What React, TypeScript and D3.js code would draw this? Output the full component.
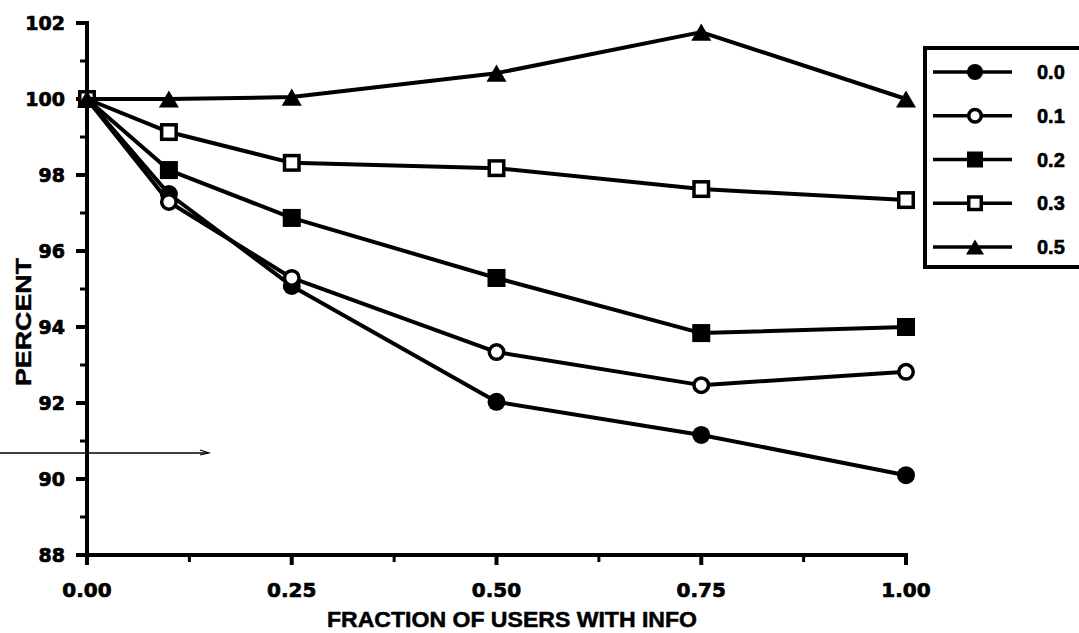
import { useEffect, useRef } from 'react';
import * as d3 from 'd3';

const fractions = [0, 0.1, 0.25, 0.5, 0.75, 1.0];
const seriesNames = ['0.0', '0.1', '0.2', '0.3', '0.5'];
const series00 = [100, 97.5, 95.08, 92.03, 91.16, 90.1];
const series01 = [100, 97.29, 95.29, 93.34, 92.47, 92.82];
const series02 = [100, 98.13, 96.87, 95.29, 93.84, 94.0];
const series03 = [100, 99.13, 98.32, 98.18, 97.63, 97.34];
const series05 = [100, 100.0, 100.05, 100.68, 101.76, 100.0];
const markerTypes = ['circleFilled', 'circleOpen', 'squareFilled', 'squareOpen', 'triangle'];

const xTicks = [0, 0.25, 0.5, 0.75, 1.0];
const xMinorTicks = [0.125, 0.375, 0.625, 0.875];
const yTicks = [88, 90, 92, 94, 96, 98, 100, 102];
const yMinorTicks = [89, 91, 93, 95, 97, 99, 101];

const xTitle = 'FRACTION OF USERS WITH INFO';
const yTitle = 'PERCENT';

const tickFont = '"DejaVu Sans", sans-serif';
const labelFont = '"Liberation Sans", Arial, sans-serif';

function drawMarker(g, type, cx, cy, s) {
  if (type === 'circleFilled') {
    g.append('circle').attr('cx', cx).attr('cy', cy).attr('r', s / 2).attr('fill', '#000');
  } else if (type === 'circleOpen') {
    g.append('circle').attr('cx', cx).attr('cy', cy).attr('r', s / 2 - 1.75)
      .attr('fill', '#fff').attr('stroke', '#000').attr('stroke-width', 3.5);
  } else if (type === 'squareFilled') {
    g.append('rect').attr('x', cx - s / 2).attr('y', cy - s / 2).attr('width', s).attr('height', s).attr('fill', '#000');
  } else if (type === 'squareOpen') {
    g.append('rect').attr('x', cx - s / 2 + 1.75).attr('y', cy - s / 2 + 1.75)
      .attr('width', s - 3.5).attr('height', s - 3.5)
      .attr('fill', '#fff').attr('stroke', '#000').attr('stroke-width', 3.5);
  } else {
    const h = s * 0.95;
    g.append('path')
      .attr('d', `M${cx},${cy - h / 2}L${cx + s / 2 + 1},${cy + h / 2}L${cx - s / 2 - 1},${cy + h / 2}Z`)
      .attr('fill', '#000');
  }
}

export default function App() {
  const svgRef = useRef(null);

  useEffect(() => {
    const svg = d3.select(svgRef.current);
    svg.selectAll('*').remove();

    const width = 1079;
    const height = 633;
    svg.attr('width', width).attr('height', height);
    svg.append('rect').attr('width', width).attr('height', height).attr('fill', '#fff');

    const x = d3.scaleLinear().domain([0, 1]).range([87, 906]);
    const y = d3.scaleLinear().domain([88, 102]).range([555, 23]);

    const allSeries = [series00, series01, series02, series03, series05];

    // axes
    const ax = svg.append('g');
    ax.append('line').attr('x1', x(0)).attr('x2', x(0)).attr('y1', y(102) - 2).attr('y2', y(88) + 9)
      .attr('stroke', '#000').attr('stroke-width', 4);
    ax.append('line').attr('x1', x(0) - 2).attr('x2', x(1) + 2).attr('y1', y(88)).attr('y2', y(88))
      .attr('stroke', '#000').attr('stroke-width', 4);

    yTicks.forEach(t => {
      ax.append('line').attr('x1', x(0) - 11).attr('x2', x(0)).attr('y1', y(t)).attr('y2', y(t))
        .attr('stroke', '#000').attr('stroke-width', 4);
      ax.append('text').attr('x', 65).attr('y', y(t)).attr('dy', '0.36em')
        .attr('text-anchor', 'end').attr('font-family', tickFont).attr('font-weight', 'bold')
        .attr('font-size', 19).attr('stroke', '#000').attr('stroke-width', 0.7).text(t);
    });
    yMinorTicks.forEach(t => {
      ax.append('line').attr('x1', x(0) - 7).attr('x2', x(0)).attr('y1', y(t)).attr('y2', y(t))
        .attr('stroke', '#000').attr('stroke-width', 3);
    });
    xTicks.forEach(t => {
      ax.append('line').attr('x1', x(t)).attr('x2', x(t)).attr('y1', y(88)).attr('y2', y(88) + 10)
        .attr('stroke', '#000').attr('stroke-width', 4);
      ax.append('text').attr('x', x(t)).attr('y', 597)
        .attr('text-anchor', 'middle').attr('font-family', tickFont).attr('font-weight', 'bold')
        .attr('font-size', 20).attr('stroke', '#000').attr('stroke-width', 0.7)
        .text(d3.format('.2f')(t));
    });
    xMinorTicks.forEach(t => {
      ax.append('line').attr('x1', x(t)).attr('x2', x(t)).attr('y1', y(88)).attr('y2', y(88) + 7)
        .attr('stroke', '#000').attr('stroke-width', 3);
    });

    svg.append('text').attr('x', 512).attr('y', 627).attr('text-anchor', 'middle')
      .attr('font-family', labelFont).attr('font-weight', 'bold').attr('font-size', 22)
      .attr('stroke', '#000').attr('stroke-width', 0.5)
      .attr('textLength', 370).attr('lengthAdjust', 'spacingAndGlyphs')
      .text(xTitle);
    svg.append('text').attr('transform', 'translate(31,322) rotate(-90)').attr('text-anchor', 'middle')
      .attr('font-family', labelFont).attr('font-weight', 'bold').attr('font-size', 22)
      .attr('stroke', '#000').attr('stroke-width', 0.4)
      .attr('textLength', 128).attr('lengthAdjust', 'spacingAndGlyphs')
      .text(yTitle);

    // stray scan line
    svg.append('line').attr('x1', 0).attr('x2', 208).attr('y1', 453).attr('y2', 453)
      .attr('stroke', '#000').attr('stroke-width', 1.3);
    svg.append('path').attr('d', 'M200,450L209,453L200,455').attr('fill', 'none')
      .attr('stroke', '#000').attr('stroke-width', 1.2);

    // series
    const line = d3.line().x((d, i) => x(fractions[i])).y(d => y(d));
    const plot = svg.append('g');
    allSeries.forEach((vals, si) => {
      const g = plot.append('g');
      g.append('path').datum(vals).attr('d', line).attr('fill', 'none')
        .attr('stroke', '#000').attr('stroke-width', 4).attr('stroke-linejoin', 'round');
      vals.forEach((v, i) => drawMarker(g, markerTypes[si], x(fractions[i]), y(v), 18));
    });

    // legend
    const lg = svg.append('g');
    lg.append('rect').attr('x', 925).attr('y', 48).attr('width', 170).attr('height', 219)
      .attr('fill', '#fff').attr('stroke', '#000').attr('stroke-width', 4);
    const ly = d3.scalePoint().domain(seriesNames).range([72, 247]);
    seriesNames.forEach((name, si) => {
      const yy = ly(name);
      lg.append('line').attr('x1', 933).attr('x2', 1012).attr('y1', yy).attr('y2', yy)
        .attr('stroke', '#000').attr('stroke-width', 3.5);
      drawMarker(lg, markerTypes[si], 975, yy, 16);
      lg.append('text').attr('x', 1037).attr('y', yy).attr('dy', '0.36em')
        .attr('font-family', labelFont).attr('font-weight', 'bold').attr('font-size', 20)
        .attr('stroke', '#000').attr('stroke-width', 0.6)
        .text(name);
    });
  }, []);

  return (
    <div style={{ position: 'fixed', left: 0, top: 0 }}>
      <svg ref={svgRef}></svg>
    </div>
  );
}
